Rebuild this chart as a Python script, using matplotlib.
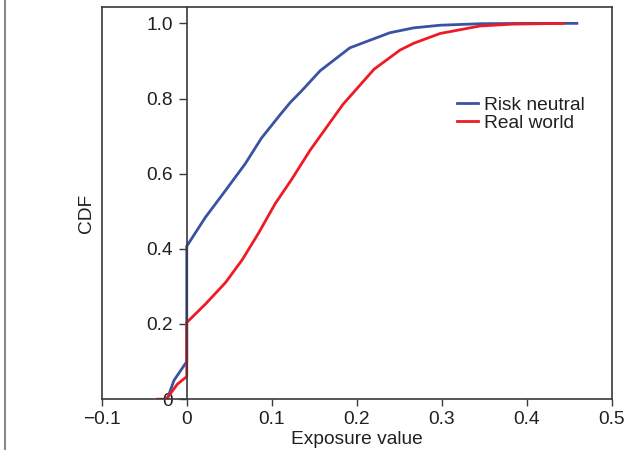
import numpy as np
import matplotlib.pyplot as plt
from matplotlib.lines import Line2D

plt.rcParams['font.family'] = ['Liberation Sans', 'DejaVu Sans']

# Risk neutral CDF (blue)
rn_x = [-0.023, -0.015, 0.0, 0.0, 0.022, 0.0455, 0.069, 0.088, 0.111, 0.122,
        0.135, 0.157, 0.192, 0.239, 0.267, 0.298, 0.345, 0.400, 0.459]
rn_y = [0.0, 0.05, 0.10, 0.407, 0.484, 0.555, 0.627, 0.695, 0.760, 0.790,
        0.820, 0.874, 0.935, 0.975, 0.988, 0.995, 0.999, 1.0, 1.0]

# Real world CDF (red)
rw_x = [-0.034, -0.024, -0.011, 0.0, 0.0, 0.022, 0.0455, 0.065, 0.084, 0.104,
        0.1235, 0.145, 0.184, 0.2204, 0.251, 0.267, 0.298, 0.345, 0.384, 0.443]
rw_y = [0.0, 0.0, 0.04, 0.06, 0.204, 0.253, 0.310, 0.370, 0.440, 0.520,
        0.585, 0.662, 0.785, 0.878, 0.929, 0.947, 0.973, 0.993, 0.998, 1.0]

xticks = [-0.1, 0, 0.1, 0.2, 0.3, 0.4, 0.5]
xticklabels = ['\u22120.1', '0', '0.1', '0.2', '0.3', '0.4', '0.5']
yticks = [0, 0.2, 0.4, 0.6, 0.8, 1.0]
yticklabels = ['0', '0.2', '0.4', '0.6', '0.8', '1.0']

txt = '#231f20'
spine_c = '#3a3a3a'
fs = 13.8

fig = plt.figure(figsize=(6.3, 4.5), dpi=100)
ax = fig.add_axes([0.1615, 0.113, 0.8095, 0.871])

ax.plot(rn_x, rn_y, color='#3953a4', lw=2.0, label='Risk neutral')
ax.plot(rw_x, rw_y, color='#ed1c24', lw=2.0, label='Real world')

ax.set_xlim(-0.1, 0.5)
ax.set_ylim(0, 1.043)

# y axis drawn through x = 0, outer frame kept as a box
ax.spines['left'].set_position(('data', 0))
for s in ax.spines.values():
    s.set_color(spine_c)
    s.set_linewidth(1.2)
ax.plot([0, 0], [0, 1], transform=ax.transAxes, color=spine_c, lw=1.2, clip_on=False)

ax.set_xticks(xticks)
ax.set_xticklabels(xticklabels)
ax.set_yticks(yticks)
ax.set_yticklabels(yticklabels)
ax.tick_params(axis='both', direction='out', width=1.0, color=spine_c,
               labelsize=fs, labelcolor=txt)
ax.tick_params(axis='x', length=5, pad=3.5)
ax.tick_params(axis='y', length=6, pad=4)

ax.set_xlabel('Exposure value', fontsize=fs, color=txt)
ax.xaxis.set_label_coords(0.5, -0.082)
ax.set_ylabel('CDF', fontsize=fs, color=txt)
ax.yaxis.set_label_coords(-0.013, 0.474)

ax.legend(loc='upper left', bbox_to_anchor=(0.697, 0.773), frameon=False,
          fontsize=fs, handlelength=1.1, handletextpad=0.3, labelspacing=0.05,
          borderpad=0, borderaxespad=0, labelcolor=txt)

# page edge line at far left
fig.add_artist(Line2D([0.008, 0.008], [0, 1], transform=fig.transFigure,
                      color='#8a8a8a', lw=1.5))

fig.savefig('out.png', dpi=100)
